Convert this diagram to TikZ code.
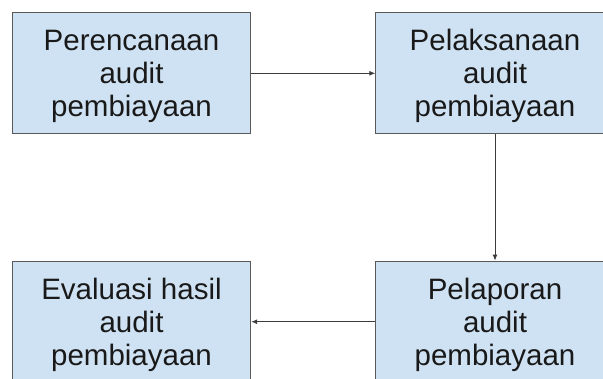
\documentclass[tikz,border=0pt]{standalone}
\usepackage{fontspec}
\setmainfont{Liberation Sans}
\usepackage{tikz}
\usetikzlibrary{arrows.meta}

\definecolor{boxblue}{HTML}{CFE2F3}
\definecolor{boxline}{HTML}{595959}
\definecolor{arrowline}{HTML}{3C3C3C}

\begin{document}
\begin{tikzpicture}[x=1pt, y=-1pt]
	\fill[white] (0,0) rectangle (603,378);
	\useasboundingbox (0,0) rectangle (603,378);
	\begin{scope}[every node/.style = {rectangle, draw = boxline, line width = 1pt,
			fill = boxblue, minimum width = 238.4pt, minimum height = 121.3pt,
			align = center, text = black!90, text depth = 0pt,
			font = \fontsize{29.5}{33}\selectfont}]
		\node (Plan) at (131.5,73.3) {Perencanaan\\audit\\pembiayaan};
		\node (Exec) at (495,73.3) {Pelaksanaan\\audit\\pembiayaan};
		\node (Report) at (495,321.7) {Pelaporan\\audit\\pembiayaan};
		\node (Eval) at (131.5,321.7) {Evaluasi hasil\\audit\\pembiayaan};
	\end{scope}
	\begin{scope}[>={Latex[length=6pt, width=5pt]},
			every edge/.style={draw=arrowline, line width=0.9pt}]
		\path [->] (Plan) edge (Exec);
		\path [->] (Exec) edge (Report);
		\path [->] (Report) edge (Eval);
	\end{scope}
\end{tikzpicture}
\end{document}
